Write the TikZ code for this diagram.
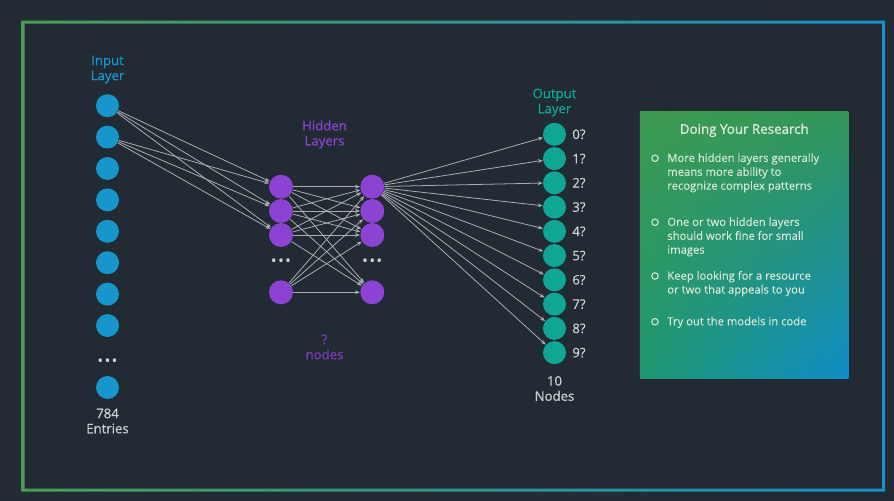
\documentclass[tikz,border=0pt]{standalone}
\usepackage{fontspec}
\setmainfont{Open Sans}
\usetikzlibrary{arrows.meta,shadings}
\definecolor{bgdark}{RGB}{34,42,51}
\definecolor{frgreen}{RGB}{74,158,84}
\definecolor{frblue}{RGB}{26,143,200}
\definecolor{inblue}{RGB}{22,150,202}
\definecolor{hidpurple}{RGB}{140,66,210}
\definecolor{qpurple}{RGB}{122,60,182}
\definecolor{outteal}{RGB}{16,166,148}
\definecolor{labelgray}{RGB}{204,208,212}
\definecolor{linkgray}{RGB}{170,174,178}
\definecolor{paneltext}{RGB}{216,232,216}
\definecolor{panelul}{RGB}{62,154,80}
\definecolor{panelur}{RGB}{50,150,88}
\definecolor{panelll}{RGB}{30,152,112}
\definecolor{panellr}{RGB}{14,140,200}
\newcommand{\threedots}{\textbullet\kern0.7pt\textbullet\kern0.7pt\textbullet}
\tikzset{
    neuron/.style={circle, inner sep=0pt, minimum size=0.46cm},
    innode/.style={neuron, fill=inblue},
    hidnode/.style={neuron, fill=hidpurple, minimum size=0.48cm},
    outnode/.style={neuron, fill=outteal},
    link/.style={-{Stealth[length=2.8pt, width=2.2pt]}, line width=0.45pt, draw=linkgray},
    heading/.style={font=\fontsize{7.5pt}{8.6pt}\selectfont\addfontfeature{FakeBold=0.5},
                    align=center, inner sep=0pt},
    count/.style={heading, text=labelgray},
    dots/.style={font=\fontsize{9pt}{9pt}\selectfont, text=labelgray, inner sep=0pt},
}
\tikzset{
    panel/.style={rectangle, inner sep=0pt, minimum width=4.17cm, minimum height=5.33cm,
                  upper left=panelul, upper right=panelur,
                  lower left=panelll, lower right=panellr},
    item/.style={anchor=north west, inner sep=0pt, align=left, text=paneltext,
                 font=\fontsize{6.4pt}{7.9pt}\selectfont\addfontfeature{FakeBold=0.2}},
    bulletmark/.style={circle, draw=paneltext, line width=0.6pt, inner sep=0pt, minimum size=0.13cm},
}

\begin{document}
\begin{tikzpicture}[x=0.02cm, y=-0.02cm]
    \fill[bgdark] (0,0) rectangle (894,501);
    \path[use as bounding box] (0,0) rectangle (894,501);
    % outer frame
    \shade[left color=frgreen, right color=frblue, even odd rule]
        (21.5,20.7) rectangle (885,491.7) (24.5,23.7) rectangle (882,488.7);

    % input layer
    \node[heading, text=inblue] (inlabel) at (107.5,69.5) {Input\\Layer};
    \foreach \i in {1,...,8} {
        \node[innode] (in\i) at (107.5,{105.7+31.4*(\i-1)}) {};
    }
    \node[dots] (indots) at (107.5,362.7) {\threedots};
    \node[innode] (in9) at (107.5,387.5) {};
    \node[count] (incount) at (107.5,421) {784\\Entries};

    % hidden layers
    \node[heading, text=hidpurple] (hidlabel) at (324.5,134.5) {Hidden\\Layers};
    \foreach \i/\y in {1/186.7,2/211,3/235,4/292.3} {
        \node[hidnode] (hida\i) at (281,\y) {};
        \node[hidnode] (hidb\i) at (372.3,\y) {};
    }
    \node[dots] (hidadots) at (281,262.7) {\threedots};
    \node[dots] (hidbdots) at (372.3,262.7) {\threedots};
    \node[heading, text=qpurple] (hidcount) at (324.5,347) {?\\nodes};

    % output layer
    \node[heading, text=outteal] (outlabel) at (554.5,102.5) {Output\\Layer};
    \foreach \k in {0,...,9} {
        \node[outnode] (out\k) at (554.5,{134.3+24.26*\k}) {};
        \node[count, anchor=west] (digit\k) at (572,{134.3+24.26*\k}) {\k?};
    }
    \node[count] (outcount) at (554.5,388.5) {10\\Nodes};

    % connections
    \foreach \i in {1,2} {
        \foreach \j in {1,2,3} {
            \draw[link] (in\i) -- (hida\j);
        }
    }
    \foreach \i in {1,...,4} {
        \foreach \j in {1,...,4} {
            \draw[link] (hida\i) -- (hidb\j);
        }
    }
    \foreach \k in {0,...,9} {
        \draw[link] (hidb1) -- (out\k);
    }

    % research panel
    \node[panel] (panel) at (744.2,245) {};
    \node[font=\fontsize{7.6pt}{8.4pt}\selectfont\addfontfeature{FakeBold=1.5}, text=paneltext, inner sep=0pt]
        (paneltitle) at (744.3,130.3) {Doing Your Research};
    \foreach \i/\y/\txt in {
        1/158.3/{More hidden layers generally\\means more ability to\\recognize complex patterns},
        2/222.3/{One or two hidden layers\\should work fine for small\\images},
        3/276/{Keep looking for a resource\\or two that appeals to you},
        4/321.7/{Try out the models in code}} {
        \node[bulletmark] (mark\i) at (655,\y) {};
        \node[item] (item\i) at (667,\y-5.3) {\txt};
    }
\end{tikzpicture}
\end{document}
